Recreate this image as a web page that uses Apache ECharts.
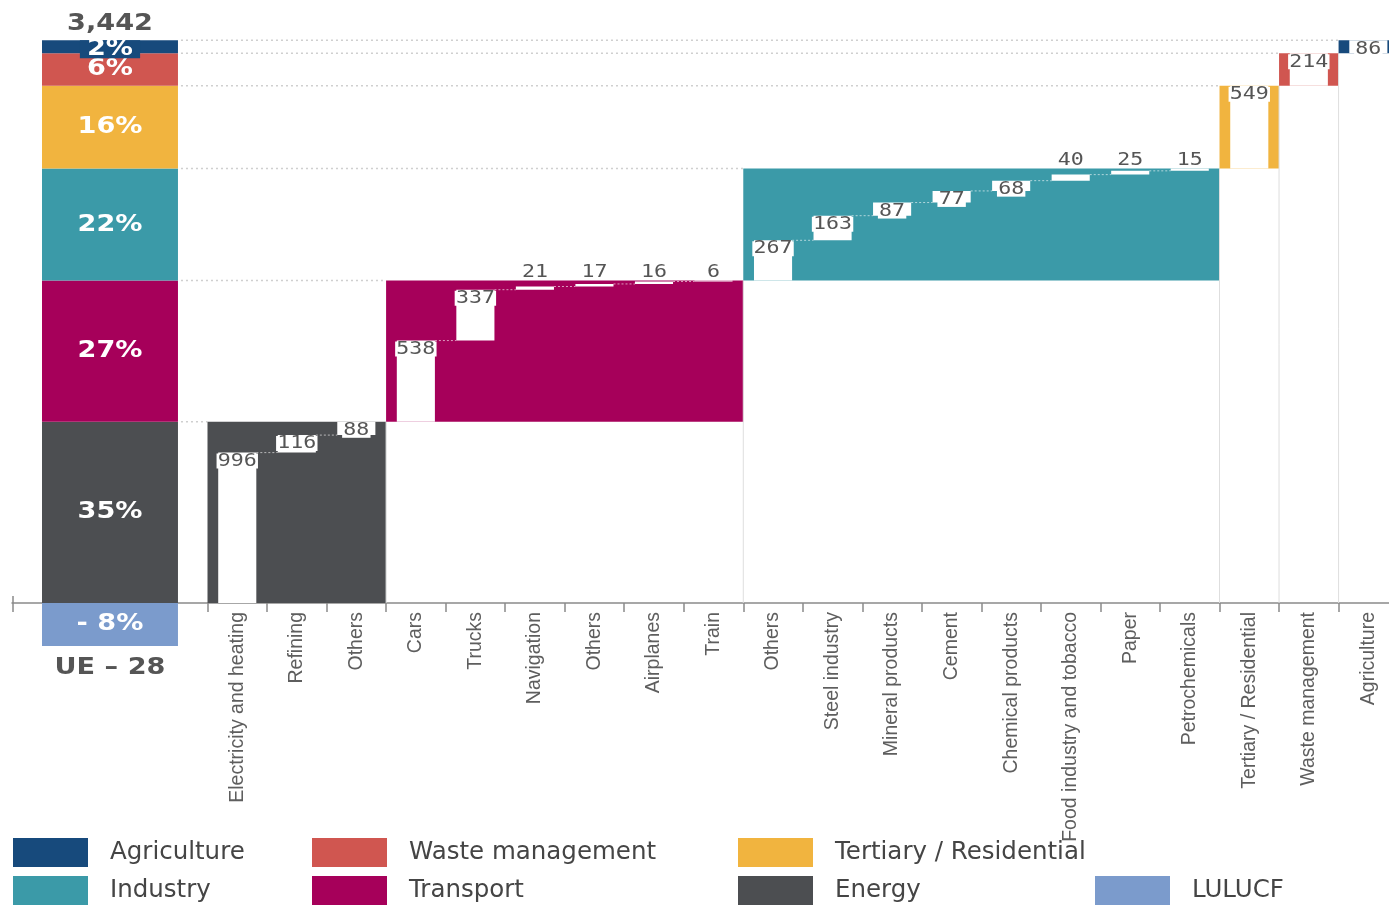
<!DOCTYPE html>
<html>
<head>
<meta charset="utf-8">
<script src="https://cdn.jsdelivr.net/npm/echarts@6/dist/echarts.min.js"></script>
<style>html,body{margin:0;padding:0;background:#fff}#c{width:1389px;height:906px}</style>
</head>
<body>
<div id="c"></div>
<script>
// ---------------- DATA ----------------
const sectors = ['Energy', 'Transport', 'Industry', 'Tertiary / Residential', 'Waste management', 'Agriculture'];
const sectorShares = ['35%', '27%', '22%', '16%', '6%', '2%'];
const lulucfName = 'LULUCF';
const lulucfValue = -284;
const lulucfShare = '- 8%';
const totalCategory = 'UE \u2013 28';
const categories = ['Electricity and heating', 'Refining', 'Others', 'Cars', 'Trucks', 'Navigation', 'Others',
  'Airplanes', 'Train', 'Others', 'Steel industry', 'Mineral products', 'Cement', 'Chemical products',
  'Food industry and tobacco', 'Paper', 'Petrochemicals', 'Tertiary / Residential', 'Waste management', 'Agriculture'];
const values = [996, 116, 88, 538, 337, 21, 17, 16, 6, 267, 163, 87, 77, 68, 40, 25, 15, 549, 214, 86];
const sectorOf = [0, 0, 0, 1, 1, 1, 1, 1, 1, 2, 2, 2, 2, 2, 2, 2, 2, 3, 4, 5];

// ---------------- STYLE / LAYOUT ----------------
const sectorColors = ['#4c4e51', '#a6005a', '#3b9aa8', '#f1b43f', '#d05650', '#174a7c'];
const lulucfColor = '#7b9bcc';
const LAYOUT = { xMin: -3.284, xMax: 19.847, yMin: 0, yMax: 3800, leftBar: [-2.78, -0.496], inset: 0.18 };
const boldFont = { fontFamily: 'DejaVu Sans', fontWeight: 'bold', fontSize: 23 };

// ---------------- DERIVED ----------------
const n = values.length;
const starts = [];
let acc = 0;
values.forEach(v => { starts.push(acc); acc += v; });
const grossTotal = acc;
const netTotal = grossTotal + lulucfValue;

const sectorBlocks = sectors.map((name, s) => {
  const idx = sectorOf.map((g, i) => (g === s ? i : -1)).filter(i => i >= 0);
  const first = idx[0], last = idx[idx.length - 1];
  return [first, last + 1, starts[first], starts[last] + values[last], s];
});
const sectorTotals = sectorBlocks.map(b => b[3] - b[2]);
const whiteBars = values.map((v, i) => [i, starts[i], starts[i] + v, v, sectorBlocks[sectorOf[i]][3],
  (i + 1 < n && sectorOf[i + 1] === sectorOf[i]) ? 1 : 0]);
let cum = 0;
const leftSegments = sectorTotals.map((v, s) => { const seg = [cum, cum + v, s]; cum += v; return seg; });
leftSegments.push([0, lulucfValue, 6]);
const allColors = sectorColors.concat([lulucfColor]);
const allShares = sectorShares.concat([lulucfShare]);

const chart = echarts.init(document.getElementById('c'));

const tickValues = [];
for (let k = 0; k < n; k++) tickValues.push(k);
const labelValues = categories.map((c, i) => i + 0.5);

const legendCommon = {
  orient: 'vertical', icon: 'rect', itemWidth: 75, itemHeight: 29, itemGap: 9, padding: 0,
  selectedMode: false,
  textStyle: { fontFamily: 'DejaVu Sans', fontSize: 24.5, color: '#454545', padding: [0, 0, 0, 17] }
};

chart.setOption({
  animation: false,
  backgroundColor: '#fff',
  grid: { left: 12, right: 0, top: 29.2, bottom: 303, containLabel: false, outerBoundsMode: 'none' },
  xAxis: {
    type: 'value', min: LAYOUT.xMin, max: LAYOUT.xMax,
    splitLine: { show: false },
    axisLine: { show: true, onZero: true, lineStyle: { color: '#8a8a8a', width: 1.5 } },
    axisTick: { show: true, customValues: tickValues, length: 9, lineStyle: { color: '#8a8a8a', width: 1.5 } },
    axisLabel: {
      show: true, customValues: labelValues, rotate: 90, margin: 9,
      fontFamily: "'Liberation Sans', Arial, sans-serif",
      fontSize: 19.5, color: '#5e5e5e',
      formatter: v => categories[Math.floor(v)]
    }
  },
  yAxis: { type: 'value', min: LAYOUT.yMin, max: LAYOUT.yMax, show: false, splitLine: { show: false } },
  legend: [
    Object.assign({ left: 13, top: 838, data: ['Agriculture', 'Industry'] }, legendCommon),
    Object.assign({ left: 312, top: 838, data: ['Waste management', 'Transport'] }, legendCommon),
    Object.assign({ left: 738, top: 838, data: ['Tertiary / Residential', 'Energy'] }, legendCommon),
    Object.assign({ left: 1095, top: 876, data: [lulucfName] }, legendCommon)
  ],
  series: [
    // sector blocks + guides
    {
      type: 'custom', silent: true, clip: false, data: sectorBlocks,
      renderItem: (params, api) => {
        const x0 = api.value(0), x1 = api.value(1), b = api.value(2), t = api.value(3), s = api.value(4);
        const p0 = api.coord([x0, t]);
        const p1 = api.coord([x1, b]);
        const zero = api.coord([x0, 0]);
        const lb = api.coord([LAYOUT.leftBar[1], t]);
        return {
          type: 'group', children: [
            { type: 'line', shape: { x1: p0[0], y1: p1[1], x2: p0[0], y2: zero[1] }, style: { stroke: '#dedede', lineWidth: 1 } },
            { type: 'line', shape: { x1: lb[0] + 3, y1: p0[1], x2: p0[0], y2: p0[1] }, style: { stroke: '#cfcfcf', lineWidth: 1.5, lineDash: [2, 3] } },
            { type: 'rect', shape: { x: p0[0], y: p0[1], width: p1[0] - p0[0], height: p1[1] - p0[1] }, style: { fill: sectorColors[s] } }
          ]
        };
      }
    },
    // white waterfall bars
    {
      type: 'custom', silent: true, clip: false, data: whiteBars,
      renderItem: (params, api) => {
        const i = api.value(0), y0 = api.value(1), y1 = api.value(2), v = api.value(3), gt = api.value(4), nxt = api.value(5);
        const a = api.coord([i + LAYOUT.inset, y1]);
        const b = api.coord([i + 1 - LAYOUT.inset, y0]);
        const h = b[1] - a[1];
        const cx = (a[0] + b[0]) / 2;
        const children = [{ type: 'rect', shape: { x: a[0], y: a[1], width: b[0] - a[0], height: h }, style: { fill: '#fff' } }];
        if (nxt) {
          const c = api.coord([i + 1 + LAYOUT.inset, y1]);
          children.push({ type: 'line', shape: { x1: b[0], y1: a[1], x2: c[0], y2: a[1] }, style: { stroke: 'rgba(255,255,255,0.6)', lineWidth: 1, lineDash: [2, 2] } });
        }
        const inside = h >= 8;
        const ly = inside ? a[1] + 1 : api.coord([i, gt])[1] - 1;
        children.push({
          type: 'text', x: cx, y: ly, scaleX: 1.2, z2: 5,
          style: {
            x: 0, y: 0, text: String(v), fill: '#555', fontFamily: 'DejaVu Sans Mono', fontSize: 18, lineHeight: 15,
            textAlign: 'center', textVerticalAlign: inside ? 'top' : 'bottom',
            backgroundColor: inside ? '#fff' : 'transparent', padding: inside ? [0, 1, 0, 1] : 0
          }
        });
        return { type: 'group', children };
      }
    },
    // left stacked total bar
    {
      type: 'custom', silent: true, clip: false, data: leftSegments,
      renderItem: (params, api) => {
        const y0 = api.value(0), y1 = api.value(1), s = api.value(2);
        const pA = api.coord([LAYOUT.leftBar[0], Math.max(y0, y1)]);
        const pB = api.coord([LAYOUT.leftBar[1], Math.min(y0, y1)]);
        const w = pB[0] - pA[0], h = pB[1] - pA[1];
        const cx = (pA[0] + pB[0]) / 2;
        const small = h < 20;
        return {
          type: 'group', children: [
            { type: 'rect', shape: { x: pA[0], y: pA[1], width: w, height: h }, style: { fill: allColors[s] } },
            {
              type: 'text', x: cx, y: small ? pA[1] : pA[1] + h / 2, scaleX: 1.18, z2: 10,
              style: Object.assign({
                x: 0, y: 0, text: allShares[s], fill: '#fff', textAlign: 'center',
                textVerticalAlign: small ? 'top' : 'middle', lineHeight: 18,
                backgroundColor: small ? allColors[s] : 'transparent', padding: small ? [0, 6, 0, 6] : 0
              }, boldFont)
            }
          ]
        };
      }
    },
    // total labels + axis start tick
    {
      type: 'custom', silent: true, clip: false, data: [[grossTotal, lulucfValue, netTotal]],
      renderItem: (params, api) => {
        const top = api.coord([(LAYOUT.leftBar[0] + LAYOUT.leftBar[1]) / 2, api.value(0)]);
        const bot = api.coord([(LAYOUT.leftBar[0] + LAYOUT.leftBar[1]) / 2, api.value(1)]);
        const o = api.coord([LAYOUT.xMin, 0]);
        return {
          type: 'group', children: [
            { type: 'line', shape: { x1: o[0] + 1, y1: o[1] - 7, x2: o[0] + 1, y2: o[1] + 9 }, style: { stroke: '#8a8a8a', lineWidth: 1.5 } },
            { type: 'text', x: top[0], y: top[1] - 5, scaleX: 1.18, style: Object.assign({ x: 0, y: 0, text: api.value(2).toLocaleString('en-US'), fill: '#555', textAlign: 'center', textVerticalAlign: 'bottom' }, boldFont) },
            { type: 'text', x: bot[0], y: bot[1] + 11, scaleX: 1.18, style: Object.assign({ x: 0, y: 0, text: totalCategory, fill: '#555', textAlign: 'center', textVerticalAlign: 'top' }, boldFont) }
          ]
        };
      }
    }
  ].concat(sectors.map((name, s) => ({ type: 'bar', name, data: [], itemStyle: { color: sectorColors[s] } })))
   .concat([{ type: 'bar', name: lulucfName, data: [], itemStyle: { color: lulucfColor } }])
});
</script>
</body>
</html>
